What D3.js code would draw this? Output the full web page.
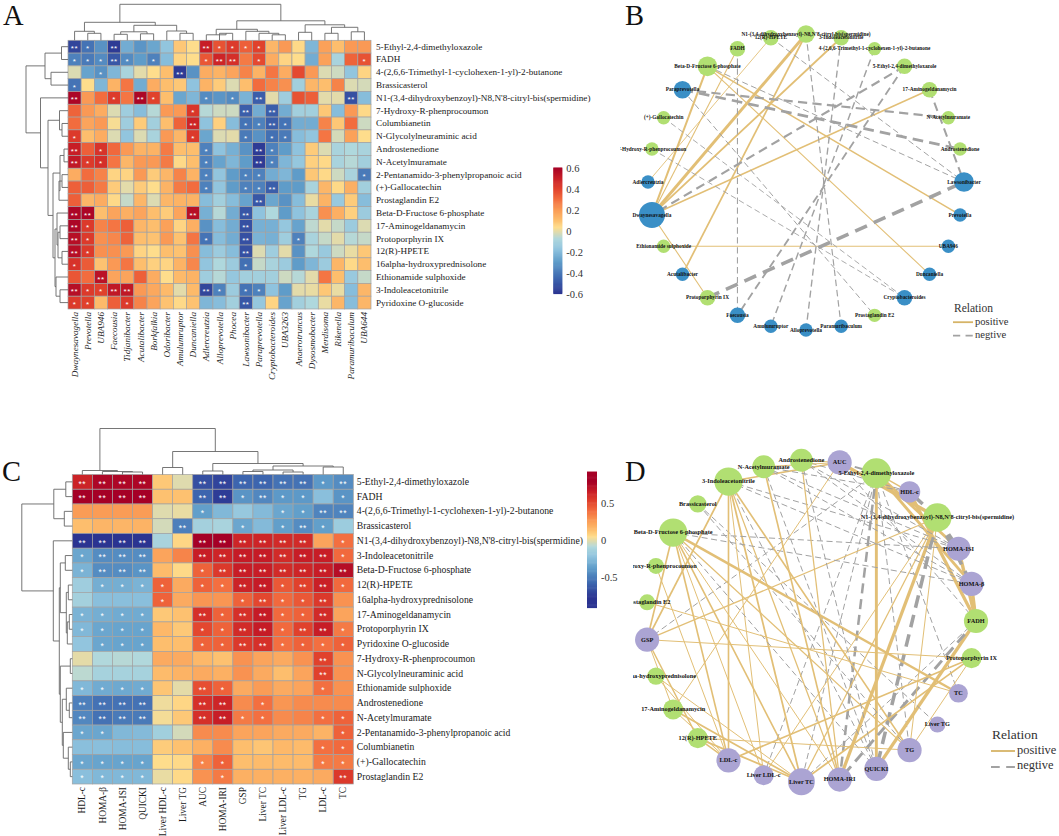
<!DOCTYPE html>
<html><head><meta charset="utf-8">
<script src="https://cdn.jsdelivr.net/npm/d3@7/dist/d3.min.js"></script>
<style>html,body{margin:0;padding:0;background:#fff}svg{display:block}text{font-family:"Liberation Serif",serif}</style>
</head><body><svg id="c" width="1059" height="836"></svg>
<script>
const N1="N1-(3,4-dihydroxybenzoyl)-N8,N'8-citryl-bis(spermidine)";
const T4="4-(2,6,6-Trimethyl-1-cyclohexen-1-yl)-2-butanone";
const rowsA=["5-Ethyl-2,4-dimethyloxazole","FADH",T4,"Brassicasterol",N1,"7-Hydroxy-R-phenprocoumon","Columbianetin","N-Glycolylneuraminic acid","Androstenedione","N-Acetylmuramate","2-Pentanamido-3-phenylpropanoic acid","(+)-Gallocatechin","Prostaglandin E2","Beta-D-Fructose 6-phosphate","17-Aminogeldanamycin","Protoporphyrin IX","12(R)-HPETE","16alpha-hydroxyprednisolone","Ethionamide sulphoxide","3-Indoleacetonitrile","Pyridoxine O-glucoside"];
const colsA=["Dwaynesavagella","Prevotella","UBA946","Faecousia","Tidjanibacter","Acutalibacter","Borkfalkia","Odoribacter","Amulumruptor","Duncaniella","Adlercreutzia","Alloprevotella","Phocea","Lawsonibacter","Paraprevotella","Cryptobacteroides","UBA3263","Anaerotruncus","Dysosmobacter","Merdisoma","Rikenella","Paramuribaculum","UBA644"];
const valuesA=[
[-.55,-.42,-.33,-.58,-.25,-.32,-.27,-.17,.08,.03,.5,.36,.42,.33,.4,.12,.2,.04,-.22,.18,.1,.2,.2],
[-.38,-.4,-.35,-.5,-.35,-.3,-.38,-.2,.05,.03,.35,.48,.45,.27,.38,.15,.05,.03,-.25,.18,-.1,.32,.36],
[-.02,-.28,-.33,-.22,-.1,-.01,.03,.1,-.58,-.33,.15,.13,.17,.25,.13,.28,.15,.38,.2,-.02,-.04,-.17,.05],
[-.42,.03,-.22,.13,.28,-.25,.15,.1,.08,-.18,.13,.07,-.02,.1,.3,.25,.22,-.12,.12,.1,.25,-.02,-.03],
[.58,.2,.3,.42,.28,.58,.4,.1,-.27,-.22,-.35,-.32,-.35,-.23,-.48,-.01,-.13,.36,.33,-.01,-.01,-.52,-.2],
[.32,.2,.15,-.02,-.13,-.2,-.07,.2,.2,.43,-.07,-.04,-.04,-.48,-.25,-.48,-.25,-.12,-.12,.08,-.2,.2,.04],
[.3,.17,.2,.02,-.13,.07,-.12,.1,.32,.48,-.18,.06,-.2,-.42,-.38,-.48,-.42,-.25,-.25,.25,.08,.3,-.04],
[.42,.1,.15,-.02,-.17,-.02,-.1,.2,.12,.42,-.27,-.02,-.01,-.4,-.33,-.43,-.4,-.2,-.17,.28,-.03,.18,.03],
[.5,.33,.44,.31,.2,.13,.13,.27,.1,.1,-.38,-.18,-.24,-.33,-.58,-.38,-.3,-.18,.07,-.02,-.1,-.08,-.1],
[.52,.42,.45,.28,.12,.2,.2,.27,.04,.1,-.38,-.28,-.22,-.3,-.58,-.38,-.22,-.16,.06,.04,-.1,-.07,-.12],
[.15,.3,.25,.05,.05,.2,.07,.12,.25,.13,-.38,-.17,-.3,-.38,-.38,-.25,-.22,-.3,.08,.04,-.04,-.1,-.4],
[.33,.33,.27,.07,-.01,.07,.03,.13,.27,.3,-.38,-.17,-.3,-.38,-.38,-.48,-.3,-.3,-.1,.12,.04,.14,-.12],
[.33,.12,.15,.04,-.05,.12,-.02,.12,.13,.13,-.2,-.12,-.2,-.28,-.5,-.27,-.33,-.2,0,.13,-.15,.07,-.2],
[.58,.58,.1,.17,.14,.17,.1,.07,.17,.55,-.24,-.07,-.25,-.5,-.18,-.08,-.3,-.18,-.1,.22,.14,.06,-.14],
[.58,.42,.25,.28,.33,.12,.1,.18,.05,.14,-.33,-.2,-.25,-.52,-.24,-.24,-.16,-.28,-.06,-.01,-.05,-.14,-.02],
[.55,.42,.22,.24,.32,.1,.09,.2,.09,.28,-.42,-.2,-.25,-.52,-.23,-.24,-.13,-.38,-.1,-.05,-.01,-.07,-.05],
[.55,.42,.22,.22,.2,.05,.03,.1,.09,.22,-.2,-.14,-.2,-.52,-.02,-.13,-.01,-.33,-.08,-.15,-.04,0,.08],
[.44,.34,.09,.2,.28,.1,.06,.05,.13,.24,-.17,-.08,-.14,-.43,-.05,-.1,-.14,-.3,-.22,-.14,.12,.04,.1],
[.35,.3,.54,.17,.17,.33,.15,.03,.11,.13,-.13,-.07,-.16,-.12,-.12,-.12,-.04,-.07,-.01,.28,.1,-.15,-.05],
[.55,.42,.4,.52,.52,.2,.16,.11,-.01,.11,-.55,-.38,-.14,-.42,-.38,-.18,-.3,-.01,0,.08,0,-.2,.12],
[.42,.4,.11,.33,.42,.25,.17,.09,.04,.09,-.22,-.2,-.12,-.5,-.16,.05,-.28,-.12,-.08,0,.12,-.2,.12]];
const sigA=["21020000002111100000000","11121010001220100000001","00100000200000000000000","10000000000000000000000","20010210001010200000020","00000000010002020000000","00000000020001121000000","10000000010001011000000","20100000001000210000000","21100000001000210000000","00000000001001100000001","00000000001001120000000","00000000000000200000000","22000000020002000000000","21000000000002000000000","21000000001002000100000","21000000000002000000000","10000000000001000000000","00200000000000000000000","21122000002101100000000","11001000000002000000000"];
// dendrograms: [merge height, child, child]; a child is a leaf index or another merge
const treeTopA=[36,[18,[9,0,[7,1,2]],[15,[8.5,[6,3,4],[6.5,5,6]],[9.3,7,[7,8,9]]]],[19.5,[11,[5.5,10,[7,11,12]],[9,13,[7,14,[5.5,15,16]]]],[15.5,[8,17,18],[13,[7,19,20],[8.5,21,22]]]]];
const treeLeftA=[42,[23,[6.5,0,1],[17,2,3]],[27.5,4,[20,[8.5,5,[6,6,7]],[15,[8,[4,8,9],[9,[6,10,11],12]],[13,[11,13,[10,[8,14,15],[6,16,17]]],[12,18,[8,19,20]]]]]]];

const rowsC=["5-Ethyl-2,4-dimethyloxazole","FADH",T4,"Brassicasterol",N1,"3-Indoleacetonitrile","Beta-D-Fructose 6-phosphate","12(R)-HPETE","16alpha-hydroxyprednisolone","17-Aminogeldanamycin","Protoporphyrin IX","Pyridoxine O-glucoside","7-Hydroxy-R-phenprocoumon","N-Glycolylneuraminic acid","Ethionamide sulphoxide","Androstenedione","N-Acetylmuramate","2-Pentanamido-3-phenylpropanoic acid","Columbianetin","(+)-Gallocatechin","Prostaglandin E2"];
const colsC=["HDL-c","HOMA-β","HOMA-ISI","QUICKI","Liver HDL-c","Liver TG","AUC","HOMA-IRI","GSP","Liver TC","Liver LDL-c","TG","LDL-c","TC"];
const valuesC=[
[.63,.75,.75,.75,.1,-.02,-.68,-.72,-.6,-.6,-.55,-.55,-.4,-.45],
[.78,.78,.78,.78,.12,.12,-.6,-.75,-.42,-.47,-.4,-.4,-.25,-.42],
[.25,.25,.25,.25,-.02,0,-.38,-.28,-.2,-.27,-.35,-.38,-.48,-.48],
[.13,.16,.16,.17,-.04,-.5,-.15,-.13,-.35,-.27,-.38,-.45,-.38,-.18],
[-.8,-.8,-.8,-.8,-.13,.06,.8,.78,.62,.62,.6,.6,.22,.38],
[-.35,-.45,-.45,-.45,.22,.32,.65,.62,.66,.66,.6,.65,.65,.4],
[-.3,-.45,-.45,-.42,.14,.05,.42,.55,.65,.65,.6,.62,.65,.72],
[-.17,-.32,-.32,-.3,.42,.2,.42,.38,.63,.66,.45,.52,.64,.4],
[-.15,-.25,-.25,-.25,.42,.2,.27,.27,.42,.5,.4,.45,.55,.28],
[-.3,-.32,-.33,-.33,.1,.12,.58,.42,.58,.66,.4,.42,.6,.22],
[-.28,-.35,-.36,-.36,.15,.1,.5,.42,.6,.66,.4,.52,.65,.35],
[-.22,-.35,-.36,-.36,.13,.13,.42,.42,.55,.58,.38,.42,.38,.42],
[-.01,-.1,-.09,-.1,.2,.2,.15,.12,.28,.22,.2,.28,.52,.28],
[-.08,-.14,-.14,-.14,.14,.17,.2,.18,.28,.2,.13,.22,.52,.28],
[-.28,-.33,-.34,-.33,.11,-.01,.48,.42,.2,.25,.2,.22,.38,.28],
[-.5,-.55,-.55,-.55,.01,.06,.58,.62,.3,.38,.27,.3,.3,.3],
[-.47,-.55,-.52,-.52,.02,.1,.58,.65,.35,.38,.3,.32,.38,.42],
[-.35,-.35,-.28,-.27,-.16,-.04,.3,.3,.22,.22,.2,.2,.17,.42],
[-.25,-.25,-.26,-.26,.09,.12,.18,.3,.13,.11,.15,.14,.38,.4],
[-.35,-.36,-.36,-.36,.04,.05,.32,.42,.13,.14,.14,.14,.35,.35],
[-.25,-.28,-.28,-.28,0,.05,.28,.35,.18,.18,.18,.18,.2,.55]];
const sigC=["22220022222212","22220022121101","00000010001122","00000200101210","22220022222201","12220022222221","12220012222222","01111011221221","00001000121120","11110021221120","11110011221221","01110011221111","00000000000020","00000000000020","11110021000010","22220022010000","22220022110011","11000000000001","00000000000011","11110011000011","11110001000002"];
const treeTopC=[46,[4,0,[3,1,[2.5,2,3]]],[23,[7,4,5],[11,[3.5,6,7],[8.5,[4.5,[3,8,9],[2.5,10,11]],[7.5,12,13]]]]];
const treeLeftC=[50.5,[18.5,[6.5,0,1],[8,2,3]],[19,4,[13,[12,[7,5,6],[6,[4,7,8],[5,[3,9,10],11]]],[12,[2,12,13],[10,[6,14,[3,15,16]],[9,17,[4,18,[2,19,20]]]]]]]];

const nodesB=["Lawsonibacter","Prevotella","UBA946","Duncaniella","Cryptobacteroides","Prostaglandin E2","Paramuribaculum","Alloprevotella","Amulumruptor","Faecousia","Protoporphyrin IX","Acutalibacter","Ethionamide sulphoxide","Dwaynesavagella","Adlercreutzia","7-Hydroxy-R-phenprocoumon","(+)-Gallocatechin","Paraprevotella","Beta-D-Fructose 6-phosphate","FADH","12(R)-HPETE",N1,"3-Indoleacetonitrile",T4,"5-Ethyl-2,4-dimethyloxazole","17-Aminogeldanamycin","N-Acetylmuramate","Androstenedione"];
const edgesB=[
["Dwaynesavagella",N1,.68],["Dwaynesavagella","Beta-D-Fructose 6-phosphate",.58],["Dwaynesavagella","3-Indoleacetonitrile",.56],["Dwaynesavagella","FADH",.48],["Dwaynesavagella","17-Aminogeldanamycin",.53],["Dwaynesavagella","Protoporphyrin IX",.48],
["Acutalibacter",N1,.55],["Adlercreutzia","12(R)-HPETE",.46],["Beta-D-Fructose 6-phosphate","Prevotella",.52],["Beta-D-Fructose 6-phosphate","Duncaniella",.48],["Ethionamide sulphoxide","UBA946",.48],
["5-Ethyl-2,4-dimethyloxazole","Dwaynesavagella",-.6],["5-Ethyl-2,4-dimethyloxazole","Faecousia",-.56],[T4,"Amulumruptor",-.52],["3-Indoleacetonitrile","Alloprevotella",-.51],[N1,"Paramuribaculum",-.49],["FADH","Faecousia",-.48],["12(R)-HPETE","Lawsonibacter",-.47],["Beta-D-Fructose 6-phosphate","Lawsonibacter",-.47],["17-Aminogeldanamycin","Lawsonibacter",-.58],["Paraprevotella","Androstenedione",-.66],["Paraprevotella","N-Acetylmuramate",-.6],["Paraprevotella","Prostaglandin E2",-.47],["(+)-Gallocatechin","Cryptobacteroides",-.46],["7-Hydroxy-R-phenprocoumon","Cryptobacteroides",-.46],["Protoporphyrin IX","Lawsonibacter",-.75]];
const nodesD=["FADH","Protoporphyrin IX","TC","Liver TG","TG","QUICKI","HOMA-IRI","Liver TC","Liver LDL-c","LDL-c","12(R)-HPETE","17-Aminogeldanamycin","16alpha-hydroxyprednisolone","GSP","Prostaglandin E2","7-Hydroxy-R-phenprocoumon","Beta-D-Fructose 6-phosphate","Brassicasterol","3-Indoleacetonitrile","N-Acetylmuramate","Androstenedione","AUC","5-Ethyl-2,4-dimethyloxazole","HDL-c",N1,"HOMA-ISI","HOMA-β"];
const tickA=[-.6,-.4,-.2,0,.2,.4,.6], tickC=[-.5,0,.5];

const svg=d3.select("#c");
svg.append("rect").attr("width",1059).attr("height",836).attr("fill","#fff");
const stops=[-1,-.75,-.5,-.3,-.13,-.03,.05,.17,.33,.5,.67,.83,1];
const stopCols=["#2b3491","#3f69b0","#5f9cc9","#8fc3de","#b0d8dd","#dddbb0","#fedd8c","#fdbd6c","#fa9a55","#f26c3e","#e0402c","#c81e26","#a50026"];
const colorFor=m=>d3.scaleLinear().domain(stops.map(s=>s*m)).range(stopCols).interpolate(d3.interpolateRgb).clamp(true);

function dendro(g,tree,pos,val,orient){
  const path=d3.path();
  const at=(n)=>typeof n==="number"?{p:pos(n),h:0}:walk(n);
  function seg(a,b,h){
    if(orient==="top"){path.moveTo(a.p,val(a.h));path.lineTo(a.p,val(h));path.lineTo(b.p,val(h));path.lineTo(b.p,val(b.h));}
    else{path.moveTo(val(a.h),a.p);path.lineTo(val(h),a.p);path.lineTo(val(h),b.p);path.lineTo(val(b.h),b.p);}
  }
  function walk(n){const a=at(n[1]),b=at(n[2]);seg(a,b,n[0]);return {p:(a.p+b.p)/2,h:n[0]};}
  walk(tree);
  g.append("path").attr("d",path.toString()).attr("fill","none").attr("stroke","#666").attr("stroke-width",.9);
}
function heatmap(o){
  const g=svg.append("g");
  const x=d3.scaleBand().domain(o.cols).range([o.x0,o.x1]);
  const y=d3.scaleBand().domain(o.rows).range([o.y0,o.y1]);
  const col=colorFor(o.cmax);
  const cells=o.values.flatMap((r,i)=>r.map((v,j)=>({i,j,v,s:+o.sig[i][j]})));
  g.selectAll("rect").data(cells).join("rect")
    .attr("x",d=>x(o.cols[d.j])).attr("y",d=>y(o.rows[d.i]))
    .attr("width",x.bandwidth()).attr("height",y.bandwidth())
    .attr("fill",d=>col(d.v)).attr("stroke","#a2a2a2").attr("stroke-width",.7);
  g.selectAll("text.s").data(cells.filter(d=>d.s>0)).join("text").attr("class","s")
    .attr("x",d=>x(o.cols[d.j])+x.bandwidth()/2).attr("y",d=>y(o.rows[d.i])+y.bandwidth()/2+o.starDy)
    .attr("text-anchor","middle").attr("fill","#fff").attr("font-size",o.starSize).style("font-family","'Liberation Sans'").attr("letter-spacing",.6)
    .text(d=>"*".repeat(d.s));
  const ay=g.append("g").attr("transform",`translate(${o.x1},0)`).call(d3.axisRight(y).tickSize(0).tickPadding(o.rowPad));
  ay.select(".domain").remove();
  ay.selectAll("text").attr("font-size",o.font).attr("fill","#1a1a1a").style("font-family","'Liberation Serif'");
  const ax=g.append("g").attr("transform",`translate(0,${o.y1})`).call(d3.axisBottom(x).tickSize(0));
  ax.select(".domain").remove();
  ax.selectAll("text").attr("transform","rotate(-90)").attr("text-anchor","end").attr("x",-o.colPad).attr("y",0).attr("dy",".33em")
    .attr("font-size",o.colFont).attr("fill","#1a1a1a").style("font-style",o.italic?"italic":"normal").style("font-family","'Liberation Serif'");
  const cx=i=>x(o.cols[i])+x.bandwidth()/2, cy=i=>y(o.rows[i])+y.bandwidth()/2;
  const topH=d3.scaleLinear().domain([0,1]).range([o.y0,o.y0-1]);
  const leftH=d3.scaleLinear().domain([0,1]).range([o.x0,o.x0-1]);
  dendro(g,o.treeTop,cx,topH,"top");
  dendro(g,o.treeLeft,cy,leftH,"left");
  // colour bar
  const bar=g.append("g");
  const yb=d3.scaleLinear().domain(o.barDomain).range(o.barRange);
  const steps=d3.range(o.barDomain[0],o.barDomain[1],(o.barDomain[1]-o.barDomain[0])/120);
  bar.selectAll("rect").data(steps).join("rect").attr("x",o.barX).attr("width",o.barW)
    .attr("y",d=>yb(d)-1.6).attr("height",1.7).attr("fill",d=>col(d));
  const ab=bar.append("g").attr("transform",`translate(${o.barX+o.barW},0)`).call(d3.axisRight(yb).tickValues(o.ticks).tickSize(0).tickPadding(4).tickFormat(d=>String(d)));
  ab.select(".domain").remove();
  ab.selectAll("text").attr("font-size",10.5).attr("fill","#333").style("font-family","'Liberation Serif'");
}
heatmap({x0:68,x1:371,y0:40.3,y1:309,cols:colsA,rows:rowsA,values:valuesA,sig:sigA,cmax:.6,treeTop:treeTopA,treeLeft:treeLeftA,
  rowPad:5,colPad:3,font:9.2,colFont:9.2,italic:true,starSize:8,starDy:4.6,barX:553.3,barW:9,barDomain:[-.6,.6],barRange:[294,168],ticks:tickA});
heatmap({x0:72.3,x1:353.3,y0:474.5,y1:784,cols:colsC,rows:rowsC,values:valuesC,sig:sigC,cmax:.78,treeTop:treeTopC,treeLeft:treeLeftC,
  rowPad:3.5,colPad:3,font:9.7,colFont:9.4,italic:false,starSize:8.5,starDy:4.8,barX:587,barW:10,barDomain:[-.92,.92],barRange:[608,472],ticks:tickC});

function network(o){
  const id="clip"+o.id;
  svg.append("defs").append("clipPath").attr("id",id).append("rect").attr("x",o.clipX).attr("y",0).attr("width",1059-o.clipX).attr("height",836);
  const g=svg.append("g").attr("clip-path",`url(#${id})`);
  const ang=d3.scaleLinear().domain([0,o.nodes.length]).range([0,2*Math.PI]);
  const px=d3.scaleLinear().domain([-1,1]).range([o.cx-o.rx,o.cx+o.rx]);
  const py=d3.scaleLinear().domain([-1,1]).range([o.cy-o.ry,o.cy+o.ry]);
  const deg=new Map(o.nodes.map(n=>[n,0]));
  o.edges.forEach(e=>{deg.set(e[0],deg.get(e[0])+1);deg.set(e[1],deg.get(e[1])+1);});
  const nd=new Map(o.nodes.map((n,i)=>[n,{n,x:px(Math.cos(ang(i))),y:py(Math.sin(ang(i))),d:deg.get(n),group:o.group(n)}]));
  const w=d3.scaleLinear().domain(o.wDomain).range(o.wRange).clamp(true);
  const r=d3.scaleLinear().domain(o.rDomain).range(o.rRange);
  g.selectAll("line").data(o.edges).join("line")
    .attr("x1",e=>nd.get(e[0]).x).attr("y1",e=>nd.get(e[0]).y).attr("x2",e=>nd.get(e[1]).x).attr("y2",e=>nd.get(e[1]).y)
    .attr("stroke",e=>e[2]>0?"#e2bf76":"#a2a2a2")
    .attr("stroke-width",e=>w(Math.abs(e[2])))
    .attr("stroke-dasharray",e=>{if(e[2]>0)return null;const s=w(Math.abs(e[2]));return `${3.5+s*2.6} ${2+s*1.5}`;});
  const list=[...nd.values()];
  g.selectAll("circle").data(list).join("circle").attr("cx",d=>d.x).attr("cy",d=>d.y).attr("r",d=>r(d.d)).attr("fill",d=>o.colors[d.group]);
  g.selectAll("text").data(list).join("text").attr("x",d=>d.x).attr("y",d=>d.y).attr("dy",".3em").attr("text-anchor","middle")
    .attr("font-size",o.font).attr("font-weight","bold").attr("fill","#111").text(d=>d.n);
  // legend
  const l=svg.append("g").attr("transform",`translate(${o.lx},${o.ly})`);
  l.append("text").attr("x",0).attr("y",0).attr("font-size",o.lf).attr("fill","#333").text("Relation");
  l.append("line").attr("x1",-1).attr("x2",o.lw).attr("y1",o.l1-3).attr("y2",o.l1-3).attr("stroke","#d6b467").attr("stroke-width",1.8);
  l.append("line").attr("x1",-1).attr("x2",o.lw).attr("y1",o.l2-2).attr("y2",o.l2-2).attr("stroke","#a2a2a2").attr("stroke-width",1.8).attr("stroke-dasharray",`${o.lw*.38} ${o.lw*.28}`);
  [["positive",o.l1],["negtive",o.l2]].forEach(t=>l.append("text").attr("x",o.lw+2).attr("y",t[1]).attr("font-size",o.lf*.92).attr("fill","#333").text(t[0]));
}
const microbes=new Set(colsA);
network({id:"B",nodes:nodesB,edges:edgesB,cx:806,cy:182,rx:158,ry:148,clipX:620,font:5.3,wDomain:[.45,.75],wRange:[.8,3.6],rDomain:[1,7],rRange:[6.7,13],
  colors:{a:"#b1df72",b:"#3a8fc6"},group:n=>microbes.has(n)?"b":"a",lx:954,ly:311.7,lf:11.5,lw:19,l1:13.5,l2:26});
const edgesD=[];
valuesC.forEach((row,i)=>row.forEach((v,j)=>{if(sigC[i][j]==="2"&&nodesD.includes(rowsC[i]))edgesD.push([rowsC[i],colsC[j],v]);}));
const clinical=new Set(colsC);
network({id:"D",nodes:nodesD,edges:edgesD,cx:811,cy:621,rx:165,ry:161,clipX:633,font:6.3,wDomain:[.6,.82],wRange:[1,3.8],rDomain:[1,12],rRange:[8,15.5],
  colors:{a:"#b1df72",b:"#aba4d3"},group:n=>clinical.has(n)?"b":"a",lx:992,ly:739,lf:13.5,lw:23,l1:15,l2:30});

[["A",3,25.4],["B",625,25.4],["C",2,481],["D",625,481]].forEach(t=>svg.append("text").attr("x",t[1]).attr("y",t[2]).attr("font-size",28.5).attr("fill","#111").text(t[0]));
</script></body></html>
